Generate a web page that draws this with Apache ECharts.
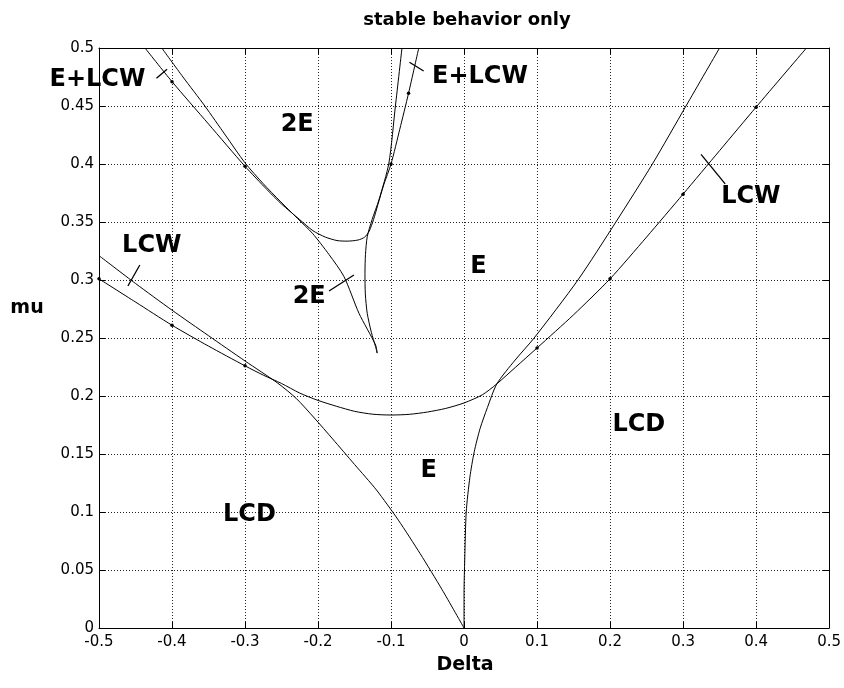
<!DOCTYPE html>
<html>
<head>
<meta charset="utf-8">
<script src="https://cdn.jsdelivr.net/npm/echarts@6/dist/echarts.min.js"></script>
<style>
html,body{margin:0;padding:0;background:#fff;}
#chart{width:844px;height:688px;}
</style>
</head>
<body>
<div id="chart"></div>
<script>
// ---- axis ranges / ticks ----
const xMin = -0.5, xMax = 0.5, xStep = 0.1;
const yMin = 0, yMax = 0.5, yStep = 0.05;

// ---- curves (Delta, mu) ----
const lowerLcw = [[-0.5,0.301],[-0.45,0.281],[-0.4,0.261],[-0.35,0.243],[-0.3,0.226],[-0.275,0.218],[-0.25,0.2108],[-0.225,0.2025],[-0.2,0.1962],[-0.175,0.1912],[-0.15,0.1868],[-0.125,0.1843],[-0.1,0.1836],[-0.075,0.1842],[-0.05,0.1862],[-0.025,0.1893],[0,0.194],[0.025,0.201],[0.045,0.2105],[0.07,0.2245],[0.1,0.2414],[0.15,0.27],[0.2,0.301],[0.25,0.337],[0.3,0.374],[0.35,0.4115],[0.4,0.449],[0.469,0.5]];
const lowerFoldLeft = [[-0.5,0.321],[-0.45,0.297],[-0.4,0.274],[-0.35,0.252],[-0.3,0.2302],[-0.255,0.211],[-0.23,0.198],[-0.205,0.181],[-0.18,0.163],[-0.15,0.141],[-0.12,0.119],[-0.09,0.093],[-0.06,0.064],[-0.03,0.033],[0,0]];
const lowerFoldRight = [[0,0],[0,0.03],[0.001,0.06],[0.003,0.1],[0.008,0.13],[0.014,0.152],[0.022,0.172],[0.032,0.19],[0.045,0.2105],[0.07,0.231],[0.096,0.25],[0.156,0.3],[0.208,0.35],[0.258,0.4],[0.304,0.45],[0.35,0.5]];
const upperLcw = [[-0.437,0.5],[-0.4,0.471],[-0.35,0.4345],[-0.3,0.398],[-0.27,0.378],[-0.25,0.3655],[-0.225,0.352],[-0.207,0.3425],[-0.19,0.337],[-0.174,0.334],[-0.16,0.3335],[-0.145,0.3345],[-0.136,0.337],[-0.13,0.342],[-0.124,0.352],[-0.118,0.365],[-0.11,0.382],[-0.1,0.4],[-0.088,0.43],[-0.076,0.461],[-0.062,0.5]];
const upperFoldLeft = [[-0.414,0.5],[-0.385,0.475],[-0.355,0.45],[-0.327,0.425],[-0.3,0.401],[-0.275,0.383],[-0.252,0.368],[-0.228,0.353],[-0.2076,0.3402],[-0.185,0.322],[-0.1644,0.3029],[-0.1439,0.2713],[-0.1212,0.244],[-0.119,0.237]];
const upperFoldRight = [[-0.119,0.237],[-0.1212,0.2425],[-0.127,0.255],[-0.1326,0.2713],[-0.1352,0.288],[-0.1357,0.3058],[-0.135,0.322],[-0.1326,0.3373],[-0.126,0.352],[-0.1166,0.369],[-0.103,0.4006],[-0.094,0.45],[-0.085,0.5]];
const dotPoints = [[-0.5,0.301],[-0.4,0.261],[-0.3,0.226],[0.1,0.2414],[0.2,0.301],[0.3,0.374],[0.4,0.449],[-0.4,0.471],[-0.3,0.398],[-0.1,0.4],[-0.076,0.461]];

// ---- region labels ----
const regionNames = ['E+LCW','E+LCW','2E','2E','LCW','E','LCW','LCD','E','LCD'];
const regionPos = [[-0.5021,0.4724],[0.0218,0.4754],[-0.2285,0.4336],[-0.2121,0.2853],[-0.4277,0.3293],[0.0198,0.3112],[0.3929,0.3716],[0.2394,0.175],[-0.0484,0.1353],[-0.294,0.0974]];
// ---- leader lines for labels ----
const leaders = [
  [[-0.4213,0.4739],[-0.4068,0.4816]],
  [[-0.0748,0.4877],[-0.0553,0.4802]],
  [[-0.1849,0.2905],[-0.1508,0.3043]],
  [[-0.4604,0.2948],[-0.4441,0.3129]],
  [[0.3246,0.4083],[0.3577,0.3828]]
];

const titleText = 'stable behavior only';
const xName = 'Delta';
const yName = 'mu';

const chart = echarts.init(document.getElementById('chart'), null, {renderer:'canvas'});
const FONT = 'DejaVu Sans';
const curveStyle = {color:'#000', width:1};
function curve(d){
  return {type:'line', data:d, showSymbol:false, smooth:0.25, lineStyle:curveStyle, silent:true, xAxisIndex:0, yAxisIndex:0, animation:false};
}
const series = [
  curve(lowerLcw), curve(lowerFoldLeft), curve(lowerFoldRight),
  curve(upperLcw), curve(upperFoldLeft), curve(upperFoldRight)
];
leaders.forEach(l => series.push({type:'line', data:l, showSymbol:false, lineStyle:{color:'#000', width:1.3}, silent:true, animation:false, clip:false}));
series.push({type:'scatter', data:dotPoints, symbolSize:3.5, itemStyle:{color:'#000', opacity:1}, silent:true, animation:false});
series.push({type:'scatter', clip:false, animation:false, silent:true, symbolSize:1,
  itemStyle:{color:'#fff', opacity:0},
  data: regionNames.map((n,i)=>({name:n, value:regionPos[i]})),
  label:{show:true, position:'inside', formatter:'{b}', fontFamily:FONT, fontWeight:'bold', fontSize:24, color:'#000', opacity:1, align:'center', verticalAlign:'middle'}
});

const axisLine = {show:true, onZero:false, lineStyle:{color:'#000', width:1}};
const tick = {show:true, inside:true, length:6, lineStyle:{color:'#000', width:1}};
const grid = {show:true, lineStyle:{color:'#222', width:1, type:[1,2]}};
const labelStyle = {fontFamily:FONT, fontSize:15, color:'#000'};

chart.setOption({
  backgroundColor:'#fff',
  animation:false,
  grid:{left:99, right:12, top:48, bottom:60, containLabel:false},
  xAxis:[
    {type:'value', min:xMin, max:xMax, interval:xStep, position:'bottom', axisLine, axisTick:tick, splitLine:grid, axisLabel:Object.assign({margin:7}, labelStyle)},
    {type:'value', min:xMin, max:xMax, interval:xStep, position:'top', axisLine, axisTick:tick, splitLine:{show:false}, axisLabel:{show:false}}
  ],
  yAxis:[
    {type:'value', min:yMin, max:yMax, interval:yStep, position:'left', axisLine, axisTick:tick, splitLine:grid, axisLabel:Object.assign({margin:5}, labelStyle)},
    {type:'value', min:yMin, max:yMax, interval:yStep, position:'right', axisLine, axisTick:tick, splitLine:{show:false}, axisLabel:{show:false}}
  ],
  graphic:[
    {type:'text', x:467, y:20, style:{text:titleText, font:'bold 18px "DejaVu Sans"', fill:'#000', textAlign:'center', textVerticalAlign:'middle'}},
    {type:'text', x:27, y:308, style:{text:yName, font:'bold 19px "DejaVu Sans"', fill:'#000', textAlign:'center', textVerticalAlign:'middle'}},
    {type:'text', x:465, y:665, style:{text:xName, font:'bold 19px "DejaVu Sans"', fill:'#000', textAlign:'center', textVerticalAlign:'middle'}}
  ],
  series
});
</script>
</body>
</html>
